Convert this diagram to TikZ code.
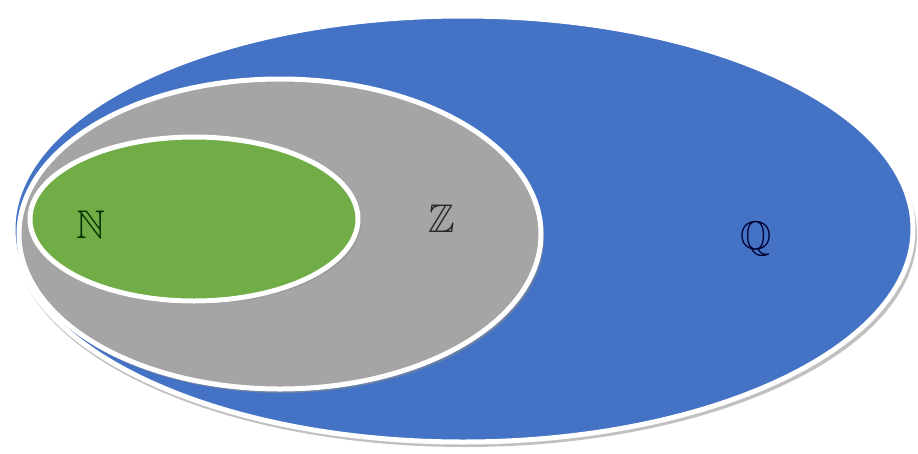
\documentclass[tikz,border=0pt]{standalone}
\usepackage{amssymb}
\definecolor{qblue}{HTML}{4472C4}
\definecolor{zgray}{HTML}{A5A5A5}
\definecolor{ngreen}{HTML}{70AD47}
\definecolor{shade}{HTML}{8C8C8C}
\begin{document}
\begin{tikzpicture}[x=1pt,y=-1pt,
  setshape/.style={draw=white,line width=5pt},
  setshadow/.style={fill=shade,opacity=0.55},
  setlabel/.style={font=\fontsize{40}{46}\selectfont}]
\useasboundingbox (0,0) rectangle (918,453);
% Q
\fill[setshadow] (465,234) ellipse [x radius=452, y radius=213];
\path[setshape,fill=qblue] (463,229) ellipse [x radius=450, y radius=213];
% Z
\fill[setshadow] (282,238) ellipse [x radius=262, y radius=155];
\path[setshape,fill=zgray] (280,234) ellipse [x radius=261, y radius=155];
% N
\fill[setshadow] (196,222) ellipse [x radius=165, y radius=82];
\path[setshape,fill=ngreen] (194,219) ellipse [x radius=164, y radius=82];
\node[setlabel,text=black!80!green] (n) at (91,225) {$\mathbb{N}$};
\node[setlabel,text=black!85] (z) at (442,219) {$\mathbb{Z}$};
\node[setlabel,text=black!80!blue] (q) at (756,239) {$\mathbb{Q}$};
\end{tikzpicture}
\end{document}
